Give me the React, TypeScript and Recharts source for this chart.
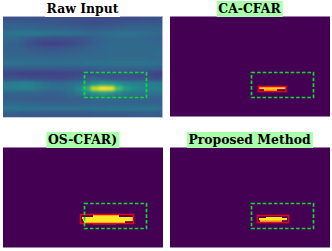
import React from 'react';
import { ReferenceArea, Scatter, ScatterChart, XAxis, YAxis } from 'recharts';

// raw range-doppler map, 20 rows x 20 columns, normalised 0-100
const rawRows = [
  [26, 26, 25, 25, 25, 25, 25, 24, 24, 24, 24, 23, 23, 23, 23, 23, 23, 24, 24, 25],
  [30, 30, 30, 29, 29, 28, 28, 27, 26, 25, 24, 24, 24, 25, 26, 27, 28, 28, 28, 28],
  [32, 33, 33, 33, 32, 32, 31, 31, 30, 30, 29, 29, 30, 30, 31, 32, 32, 32, 32, 32],
  [38, 39, 40, 40, 40, 39, 38, 38, 37, 36, 35, 34, 35, 36, 37, 37, 37, 36, 35, 34],
  [34, 34, 32, 29, 26, 25, 25, 25, 25, 26, 27, 30, 32, 33, 34, 34, 34, 33, 32, 31],
  [31, 30, 28, 24, 21, 19, 19, 20, 21, 24, 27, 30, 32, 33, 34, 34, 34, 34, 34, 33],
  [31, 31, 30, 28, 27, 26, 26, 27, 28, 29, 31, 32, 33, 34, 34, 34, 34, 34, 34, 34],
  [32, 31, 31, 31, 30, 30, 30, 31, 31, 32, 32, 33, 33, 34, 34, 34, 34, 34, 34, 35],
  [34, 34, 34, 34, 34, 33, 33, 33, 34, 34, 34, 34, 34, 35, 35, 35, 35, 35, 34, 34],
  [37, 37, 37, 36, 36, 36, 36, 36, 36, 36, 37, 37, 37, 38, 38, 38, 38, 38, 37, 36],
  [29, 29, 29, 29, 28, 28, 28, 28, 28, 28, 29, 30, 31, 31, 31, 31, 31, 31, 31, 30],
  [21, 20, 19, 19, 19, 19, 19, 20, 20, 21, 22, 23, 24, 24, 24, 24, 23, 23, 21, 19],
  [26, 26, 25, 24, 24, 23, 23, 23, 24, 26, 29, 31, 29, 27, 26, 26, 25, 25, 24, 23],
  [41, 43, 44, 43, 40, 37, 35, 35, 36, 38, 43, 51, 57, 55, 49, 45, 43, 43, 42, 41],
  [42, 43, 44, 43, 40, 37, 36, 36, 38, 45, 63, 90, 100, 98, 70, 55, 48, 45, 44, 43],
  [32, 32, 31, 31, 31, 30, 30, 32, 34, 39, 45, 51, 55, 51, 45, 41, 39, 38, 37, 37],
  [30, 30, 30, 29, 29, 29, 29, 29, 30, 30, 31, 33, 34, 34, 33, 32, 32, 31, 31, 31],
  [33, 33, 32, 32, 31, 31, 31, 31, 31, 31, 32, 32, 32, 32, 32, 32, 32, 31, 31, 31],
  [40, 40, 39, 38, 38, 37, 37, 37, 37, 37, 37, 38, 38, 39, 39, 39, 39, 39, 39, 38],
  [29, 29, 28, 28, 28, 27, 27, 27, 27, 27, 27, 28, 28, 28, 28, 28, 29, 29, 29, 28],
];

const viridisStops = ['#440154', '#482475', '#414487', '#355f8d', '#2a788e', '#21918c', '#22a884', '#44bf70', '#7ad151', '#bddf26', '#fde725'];

// detection masks, one span per row of bins
const caMask = [
  { x0: 88, x1: 116, y0: 70.5, y1: 72.5, v: 0.9 },
  { x0: 94, x1: 107, y0: 72.5, y1: 74.5, v: 0.8 },
];
const osMask = [
  { x0: 90, x1: 116, y0: 67.5, y1: 69.5, v: 1 },
  { x0: 79, x1: 130, y0: 69.5, y1: 71.5, v: 1 },
  { x0: 80, x1: 130, y0: 71.5, y1: 73.5, v: 1 },
  { x0: 81, x1: 122, y0: 73.5, y1: 75.5, v: 1 },
  { x0: 90, x1: 113, y0: 75.5, y1: 76.5, v: 0.8 },
];
const proposedMask = [
  { x0: 96, x1: 112, y0: 69.5, y1: 70.5, v: 1 },
  { x0: 89, x1: 117, y0: 70.5, y1: 72.5, v: 1 },
  { x0: 90, x1: 112, y0: 72.5, y1: 74.5, v: 0.8 },
];

const truthBox = { x0: 81.5, x1: 143.5, y0: 56, y1: 81 };
const caBox = { x0: 88.5, x1: 116, y0: 70, y1: 75 };
const osBox = { x0: 77.5, x1: 130.5, y0: 67, y1: 76 };
const proposedBox = { x0: 87.5, x1: 118.5, y0: 68, y1: 75 };

const PANEL_W = 160;
const PANEL_H = 100;

const rawCells = rawRows.flatMap((row, r) =>
  row.map((v, c) => ({ x: (c + 0.5) * (PANEL_W / row.length), y: (r + 0.5) * (PANEL_H / rawRows.length), v, r, c }))
);

const maskCells = (mask: any[]) =>
  mask.map((m) => ({ x: (m.x0 + m.x1) / 2, y: (m.y0 + m.y1) / 2, w: m.x1 - m.x0, h: m.y1 - m.y0, v: m.v }));

function viridis(v: number) {
  const pos = Math.min(v * 10, 10);
  const t = pos - Math.floor(pos);
  const a = viridisStops[Math.floor(pos)];
  const b = viridisStops[Math.min(10, Math.floor(pos) + 1)];
  const mix = (k: number) =>
    Math.round(parseInt(a.slice(k, k + 2), 16) * (1 - t) + parseInt(b.slice(k, k + 2), 16) * t);
  return `rgb(${mix(1)},${mix(3)},${mix(5)})`;
}

const maskColor = (v: number) => (v === 1 ? '#fde725' : v === 0.9 ? '#fdcf22' : '#fdb31c');

function HeatCell(props: any) {
  const { v, r, c } = props.payload;
  const w = PANEL_W / rawRows[0].length + 1;
  const h = PANEL_H / rawRows.length + 1;
  // outer cells run past the plot so the blur has no soft rim
  const padL = c === 0 ? 6 : 0;
  const padR = c === rawRows[0].length - 1 ? 6 : 0;
  const padT = r === 0 ? 6 : 0;
  const padB = r === rawRows.length - 1 ? 6 : 0;
  return (
    <rect
      x={props.cx - w / 2 - padL}
      y={props.cy - h / 2 - padT}
      width={w + padL + padR}
      height={h + padT + padB}
      fill={viridis(v / 100)}
    />
  );
}

function MaskCell(props: any) {
  const { w, h, v } = props.payload;
  return <rect x={props.cx - w / 2} y={props.cy - h / 2} width={w} height={h + 0.2} fill={maskColor(v)} />;
}

function Panel({ left, top, background, mask, box, raw }: any) {
  return (
    <div style={{ position: 'absolute', left, top }} className={raw ? 'raw' : ''}>
      <ScatterChart
        width={raw ? 160 : 161}
        height={102}
        margin={{ top: 0.5, right: raw ? 0 : 1, bottom: 1.5, left: 0 }}
      >
        <XAxis type="number" dataKey="x" domain={[0, PANEL_W]} hide />
        <YAxis type="number" dataKey="y" domain={[0, PANEL_H]} reversed hide />
        <ReferenceArea x1={0} x2={PANEL_W} y1={0} y2={PANEL_H} fill={background} fillOpacity={1} stroke="none" />
        {raw && <Scatter data={rawCells} shape={HeatCell} isAnimationActive={false} />}
        {mask && <Scatter data={maskCells(mask)} shape={MaskCell} isAnimationActive={false} />}
        {box && (
          <ReferenceArea x1={box.x0} x2={box.x1} y1={box.y0} y2={box.y1} fill="none" stroke="#e8001c" strokeWidth={1.5} zIndex={800} />
        )}
        <ReferenceArea
          x1={truthBox.x0}
          x2={truthBox.x1}
          y1={truthBox.y0}
          y2={truthBox.y1}
          fill="none"
          stroke="#0cdc30"
          strokeWidth={1.7}
          strokeDasharray="3.6 2"
          zIndex={900}
        />
      </ScatterChart>
      {raw && (
        <div
          style={{
            position: 'absolute',
            left: 0,
            top: 0,
            width: 159,
            height: 100,
            borderTop: '1px solid rgba(255,255,255,0.55)',
            borderRight: '1px solid rgba(255,255,255,0.55)',
            borderBottom: '1px solid rgba(255,255,255,0.7)',
          }}
        />
      )}
    </div>
  );
}

function Title({ text, center, top, green }: any) {
  return (
    <div
      style={{
        position: 'absolute',
        left: center,
        top,
        transform: 'translateX(-50%)',
        height: 15.5,
        lineHeight: '15px',
        padding: '0 2px',
        background: green ? '#aaffaa' : '#ffffff',
        fontFamily: '"DejaVu Serif"',
        fontWeight: 'bold',
        fontSize: 12.4,
        color: '#000',
        whiteSpace: 'nowrap',
        zIndex: 5,
      }}
    >
      {text}
    </div>
  );
}

export default function App() {
  return (
    <div style={{ position: 'fixed', left: 0, top: 0, width: 332, height: 251, background: '#fff', overflow: 'hidden' }}>
      <style>{`.raw .recharts-scatter { filter: blur(1.6px); }`}</style>
      <Panel left={3} top={16} background={viridis(0.31)} raw />
      <Panel left={170} top={16} background="#440154" mask={caMask} box={caBox} />
      <Panel left={3} top={147} background="#440154" mask={osMask} box={osBox} />
      <Panel left={170} top={147} background="#440154" mask={proposedMask} box={proposedBox} />
      <Title text="Raw Input" center={82.5} top={1} />
      <Title text="CA-CFAR" center={249.5} top={1} green />
      <Title text="OS-CFAR)" center={82.5} top={132} green />
      <Title text="Proposed Method" center={249.5} top={132} green />
    </div>
  );
}
